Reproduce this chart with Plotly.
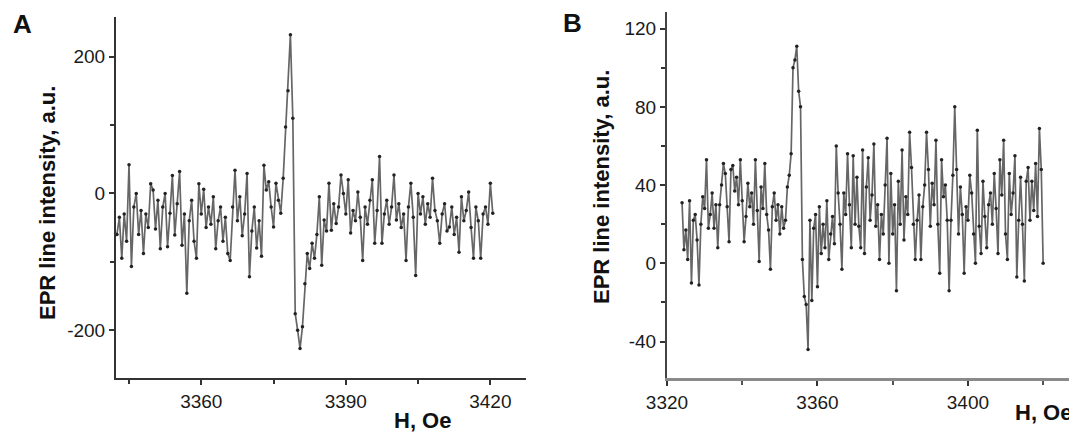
import numpy as np
import plotly.graph_objects as go

# ---------------- Data ----------------
# Panel A: field sweep start / step (Oe) and EPR intensity (a.u.)
a_field_start = 3342.5
a_field_step = 0.5
a_intensity = [
    -60, -35, -95, -30, -70, 42, -107, -20, 0, -60,
    -25, -88, -30, -50, 14, 5, -52, -10, -81, -20,
    0, -78, -29, 26, -61, -15, 32, -76, -30, -146,
    -40, -10, -70, -95, 14, -30, 6, -50, -20, -45,
    -5, -81, -40, -20, -70, -35, -88, -98, -20, 34,
    -40, -5, -62, -30, 29, -122, -55, -20, -80, -40,
    -92, 41, 5, 17, -20, -49, 15, -10, -29, 22,
    97, 150, 232, 110, -176, -200, -227, -195, -132, -88,
    -110, -73, -95, -60, -5, -105, -39, -55, 15, -54,
    -15, -44, -20, 27, 0, -30, 20, -58, -25, -40,
    2, -35, -98, -20, -45, -10, 20, -73, -25, 54,
    -73, -30, -10, -45, -20, 27, -39, -15, -50, -30,
    -98, -20, 15, -35, -120, 0, -30, -5, -45, -15,
    -35, 22, -25, -40, -73, -30, -15, -55, -49, -20,
    -60, -35, -86, -5, -40, -25, 2, -50, -95, -20,
    -40, -95, -30, -20, -45, 15, -29,
]
a_xticks = [3360, 3390, 3420]
a_yticks = [-200, 0, 200]
a_yticklabels = ["-200", "0", "200"]

# Panel B
b_field_start = 3324.0
b_field_step = 0.5
b_intensity = [
    31, 7, 17, 2, 32, -10, 22, 25, 12, -11,
    20, 34, 28, 53, 18, 25, 36, 18, 30, 8,
    30, 40, 51, 46, 29, 11, 48, 50, 37, 44,
    30, 53, 32, 11, 24, 41, 29, 36, 20, 53,
    27, 1, 39, 28, 51, 25, 17, -3, 29, 36,
    22, 30, 15, 29, 18, 22, 39, 45, 56, 100,
    104, 111, 88, 80, 2, -17, -21, -44, 22, -19,
    18, 25, -12, 29, 5, 20, 8, 32, 2, 15,
    24, 10, 60, 36, 20, -3, 36, 25, 56, 30,
    8, 55, 20, 44, 19, 8, 58, 5, 39, 54,
    22, 35, 61, 19, 30, 2, 25, 15, 40, 64,
    0, 46, 15, 30, -14, 42, 20, 58, 12, 34,
    25, 67, 49, 20, 2, 22, 35, 2, 29, 40,
    67, 48, 19, 41, 30, 63, 20, -5, 53, 34,
    40, 22, -14, 22, 45, 80, 48, 15, 39, 25,
    -5, 29, 22, 45, 36, 15, 0, 68, 19, 5,
    42, 24, 8, 30, 36, 20, 46, 28, 5, 53,
    35, 63, 15, 2, 46, 25, 36, 55, -7, 22,
    44, 20, -9, 42, 49, 22, 42, 27, 51, 24,
    69, 48, 0,
]
b_xticks = [3320, 3360, 3400]
b_yticks = [-40, 0, 40, 80, 120]
b_yticklabels = ["-40", "0", "40", "80", "120"]

a_field = a_field_start + a_field_step * np.arange(len(a_intensity))
b_field = b_field_start + b_field_step * np.arange(len(b_intensity))

y_title = "EPR line intensity, a.u."
x_title = "H, Oe"

# ---------------- Figure ----------------
# The page body adds an 8 px offset, so the figure is 8 px smaller
# and page-pixel positions are converted accordingly.
OFF = 8
W, H = 1077 - OFF, 438 - OFF
fig = go.Figure()

line_style = dict(color="#666666", width=1.7)
marker_style = dict(color="#222222", size=3.5)

fig.add_trace(go.Scatter(x=a_field, y=a_intensity, mode="lines+markers",
                         line=line_style, marker=marker_style,
                         xaxis="x", yaxis="y", showlegend=False))
fig.add_trace(go.Scatter(x=b_field, y=b_intensity, mode="lines+markers",
                         line=line_style, marker=marker_style,
                         xaxis="x2", yaxis="y2", showlegend=False))

tick_font = dict(family="Liberation Sans, Arial, sans-serif", size=19, color="#1a1a1a")

def px_x(p):
    return (p - OFF) / W

def px_y(p):
    return 1 - (p - OFF) / H

common = dict(showgrid=False, zeroline=False, showline=True, ticks="outside",
              ticklen=5, tickwidth=1.5, tickcolor="#333", tickfont=tick_font,
              mirror=False, automargin=False)

fig.update_layout(
    width=W, height=H,
    margin=dict(l=0, r=0, t=0, b=0, autoexpand=False),
    paper_bgcolor="white", plot_bgcolor="white",
    xaxis=dict(domain=[px_x(116), px_x(526)], range=[3342.3, 3427.4],
               tickvals=a_xticks, anchor="y",
               linecolor="#333", linewidth=2,
               minor=dict(dtick=15, tick0=3345, ticks="outside", ticklen=4, tickcolor="#333"),
               **common),
    yaxis=dict(domain=[px_y(378), px_y(17)], range=[-270, 258],
               tickvals=a_yticks, ticktext=a_yticklabels, anchor="x",
               linecolor="#333", linewidth=2,
               minor=dict(dtick=100, tick0=0, ticks="outside", ticklen=4, tickcolor="#333"),
               **common),
    xaxis2=dict(domain=[px_x(667), 1.0], range=[3320, 3429],
                tickvals=b_xticks, anchor="y2",
                linecolor="#8a8a8a", linewidth=3,
                minor=dict(dtick=20, tick0=3320, ticks="outside", ticklen=4, tickcolor="#555"),
                **common),
    yaxis2=dict(domain=[px_y(378), px_y(12)], range=[-58.6, 128.5],
                tickvals=b_yticks, ticktext=b_yticklabels, anchor="x2",
                linecolor="#444", linewidth=2,
                minor=dict(dtick=20, tick0=0, ticks="outside", ticklen=4, tickcolor="#333"),
                **common),
)

title_font = dict(family="Liberation Sans, Arial, sans-serif", size=22, color="#111", weight="bold")
letter_font = dict(family="Liberation Sans, Arial, sans-serif", size=26, color="#111", weight="bold")

annotations = [
    dict(text=y_title, x=px_x(48), y=px_y(203), textangle=-90, font=title_font),
    dict(text=y_title, x=px_x(601), y=px_y(187), textangle=-90, font=title_font),
    dict(text=x_title, x=px_x(422), y=px_y(420), font=title_font),
    dict(text=x_title, x=px_x(1074), y=px_y(412), xanchor="right", font=title_font),
    dict(text="A", x=px_x(22), y=px_y(24), font=letter_font),
    dict(text="B", x=px_x(572), y=px_y(23), font=letter_font),
]
for a in annotations:
    a.setdefault("xanchor", "center")
    a.update(xref="paper", yref="paper", yanchor="middle", showarrow=False)
fig.update_layout(annotations=annotations)

fig.write_html("out.html")
